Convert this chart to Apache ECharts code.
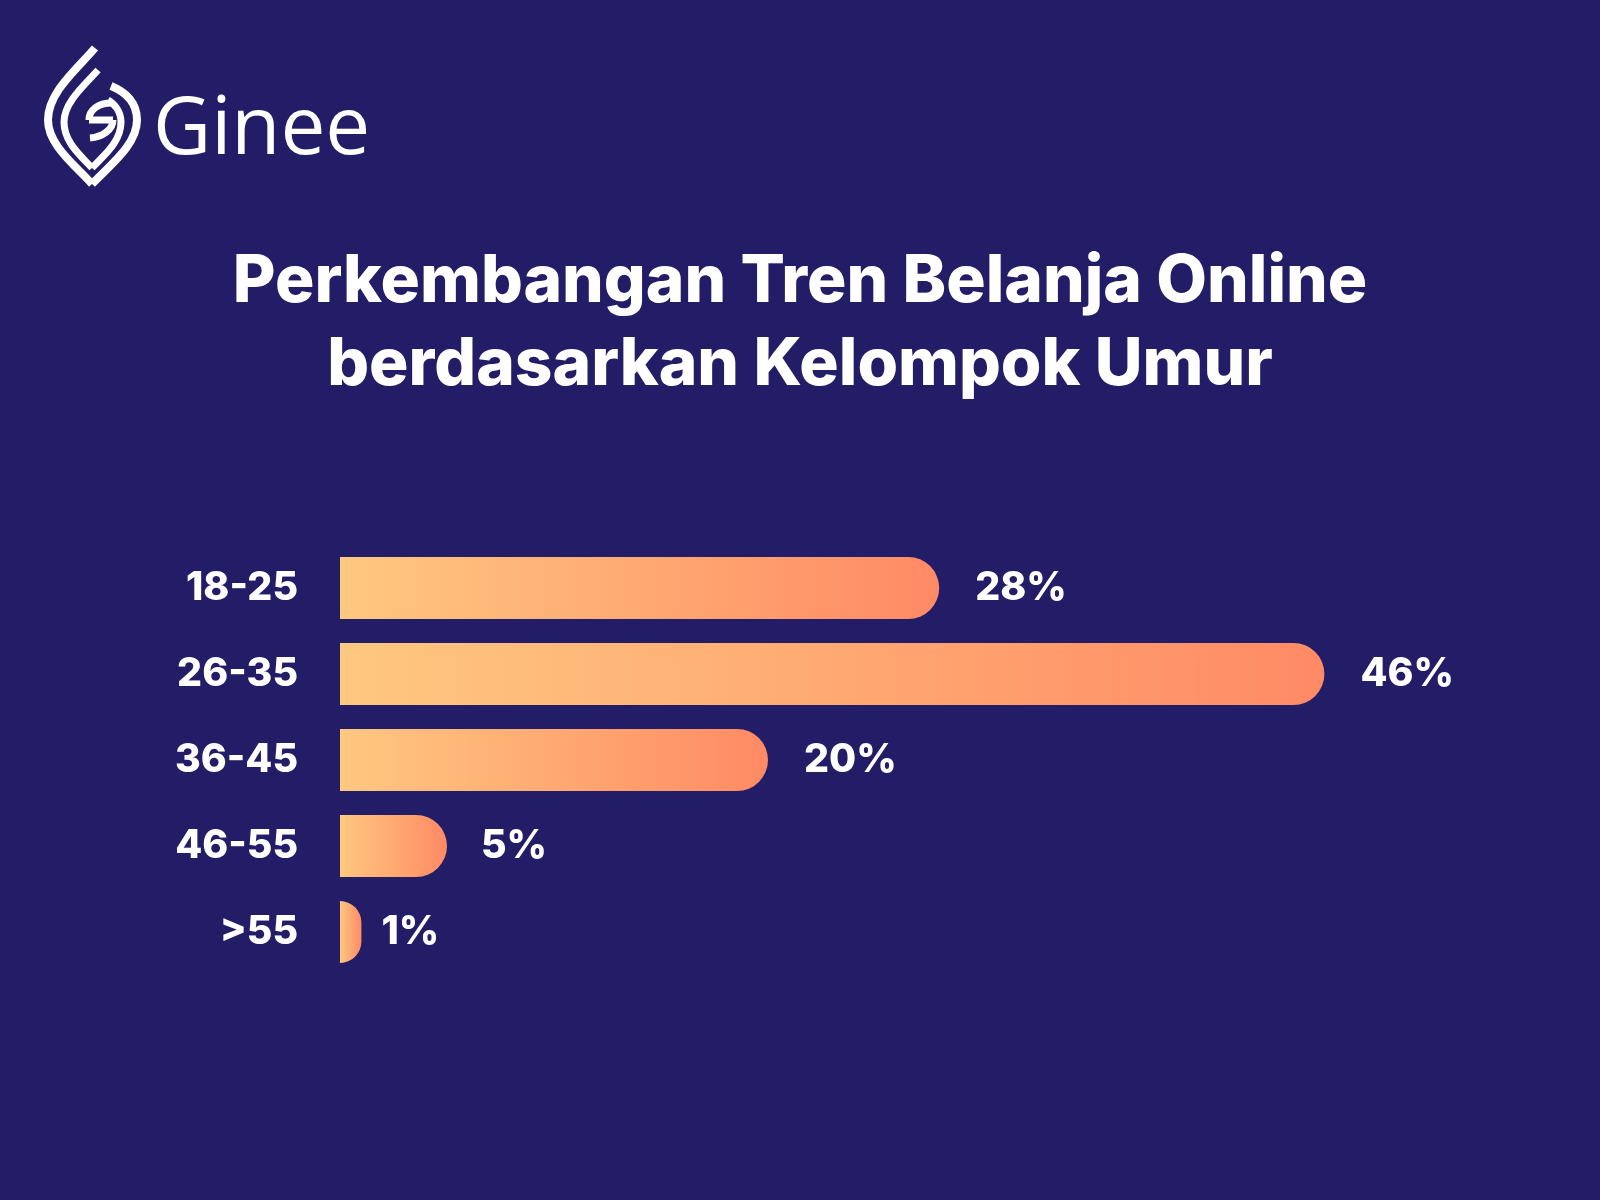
<!DOCTYPE html>
<html>
<head>
<meta charset="utf-8">
<script src="https://cdn.jsdelivr.net/npm/echarts@6/dist/echarts.min.js"></script>
<style>html,body{margin:0;padding:0;background:#231c66;}#c{width:1600px;height:1200px;}</style>
</head>
<body>
<div id="c"></div>
<script>
// ---- data ----
const categories = ['18-25', '26-35', '36-45', '46-55', '>55'];
const values = [28, 46, 20, 5, 1];
const titleLines = ['Perkembangan Tren Belanja Online', 'berdasarkan Kelompok Umur'];
const brandName = 'Ginee';

// ---- styles ----
const BG = '#231c66';
const labelGaps = [36, 36, 36, 34, 20];
const FAM = 'Inter, "Noto Sans", sans-serif';
const WEIGHT = 800;

function fitSize(text, targetW) {
  const ctx = document.createElement('canvas').getContext('2d');
  ctx.font = WEIGHT + ' 100px ' + FAM;
  return 100 * targetW / ctx.measureText(text).width;
}
const titleSize = Math.min(70, fitSize(titleLines[0], 1134));
const labelSize = Math.min(42, fitSize('18-25', 112));

const chart = echarts.init(document.getElementById('c'));

function bez(x1, y1, cpx1, cpy1, cpx2, cpy2, x2, y2, w) {
  return {
    type: 'bezierCurve',
    shape: { x1, y1, cpx1, cpy1, cpx2, cpy2, x2, y2 },
    style: { stroke: '#ffffff', lineWidth: w, fill: null, lineCap: 'butt' },
    silent: true
  };
}

const logo = [
  // outer
  bez(95, 48, 78, 68, 48, 92, 48, 120, 8),
  bez(48, 120, 48, 145, 75, 165, 92, 184, 8),
  bez(92, 184, 110, 165, 137, 145, 137, 120, 8),
  bez(137, 120, 137, 103, 126, 92, 111, 86, 8),
  // middle
  bez(98, 70, 85, 85, 64, 102, 64, 122, 7),
  bez(64, 122, 64, 142, 80, 155, 92, 168, 7),
  bez(92, 168, 104, 155, 121, 142, 121, 122, 7),
  bez(121, 122, 121, 112, 115, 104, 108, 100, 7),
  // inner G
  bez(112, 103, 98, 103, 89, 110, 89, 120, 7),
  bez(89, 120, 97, 120, 105, 120, 113, 120, 7),
  bez(113, 120, 113, 130, 102, 137, 90, 138, 7)
];

const titleEls = titleLines.map((t, i) => ({
  type: 'text',
  silent: true,
  style: {
    x: 800, y: 282 + i * 83,
    text: t,
    font: WEIGHT + ' ' + titleSize.toFixed(1) + 'px ' + FAM,
    fill: '#ffffff',
    textAlign: 'center',
    textVerticalAlign: 'middle'
  }
}));

const option = {
  backgroundColor: BG,
  animation: false,
  graphic: logo.concat(titleEls, [{
    type: 'text',
    style: {
      x: 153, y: 131,
      text: brandName,
      font: '400 80px "Open Sans", sans-serif',
      fill: '#ffffff',
      textAlign: 'left',
      textVerticalAlign: 'middle'
    },
    silent: true
  }]),
  grid: { left: 340, right: 190, top: 545, height: 430, containLabel: false },
  xAxis: {
    type: 'value', min: 0, max: 50,
    show: false,
    splitLine: { show: false }
  },
  yAxis: {
    type: 'category',
    data: categories,
    inverse: true,
    axisLine: { show: false },
    axisTick: { show: false },
    axisLabel: {
      color: '#ffffff',
      fontFamily: FAM,
      fontWeight: WEIGHT,
      fontSize: labelSize,
      margin: 42,
      align: 'right'
    }
  },
  series: [{
    type: 'bar',
    barWidth: 62,
    data: values.map((v, i) => ({
      value: v,
      label: { distance: labelGaps[i] }
    })),
    itemStyle: {
      borderRadius: [0, 31, 31, 0],
      color: new echarts.graphic.LinearGradient(0, 0, 1, 0, [
        { offset: 0, color: '#ffc880' },
        { offset: 1, color: '#ff8a65' }
      ])
    },
    label: {
      show: true,
      position: 'right',
      formatter: '{c}%',
      color: '#ffffff',
      fontFamily: FAM,
      fontWeight: WEIGHT,
      fontSize: labelSize
    }
  }]
};
chart.setOption(option);
</script>
</body>
</html>
